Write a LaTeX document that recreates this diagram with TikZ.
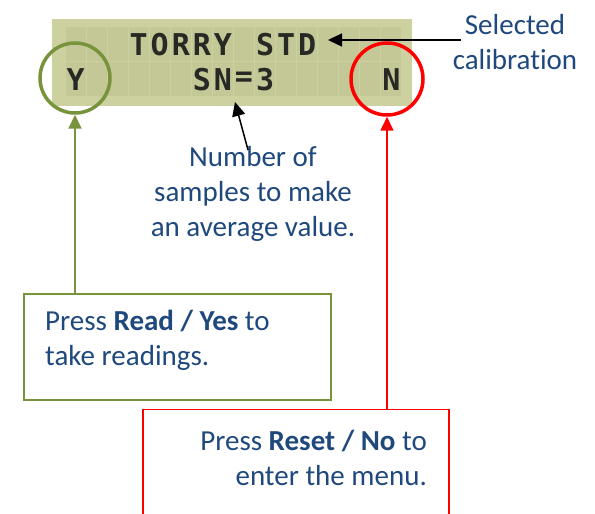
\documentclass[tikz,border=0pt]{standalone}
\usepackage{fontspec}
\setmainfont{Carlito}[Ligatures=CommonOff]
\newfontfamily\lcdfont{DejaVu Sans Mono}
\usepackage{color}
\usetikzlibrary{arrows.meta}
\usetikzlibrary{positioning}

\definecolor{lcdbg}{RGB}{205,209,160}
\definecolor{lcdcell}{RGB}{196,200,151}
\definecolor{lcdink}{RGB}{40,40,36}
\definecolor{txtblue}{RGB}{31,73,125}
\definecolor{btngreen}{RGB}{119,147,60}
\definecolor{btnred}{RGB}{255,0,0}

\begin{document}
\begin{tikzpicture}[x=1pt,y=1pt,
  note/.style={text=txtblue,font=\fontsize{29}{35}\selectfont,inner sep=0pt},
  lcdchar/.style={text=lcdink,font=\lcdfont\bfseries\fontsize{30}{30}\selectfont,inner sep=0pt},
  callbox/.style={draw,anchor=north west,inner sep=0pt},
  ring/.style={circle,draw,line width=3.5pt,inner sep=0pt,minimum size=#1},
  pointer/.style={-{Triangle[length=14pt,width=13pt]},line width=1.5pt}]
  \useasboundingbox (0,0) rectangle (595,514);
  \clip (0,0) rectangle (595,514);

  %% display, 16 x 2 cells
  \node[fill=lcdbg,minimum width=360,minimum height=87,inner sep=0pt] (lcd) at (232,451.5) {};
  \foreach \r in {0,1}
  \foreach \c in {0,...,15}
  \fill[lcdcell] (65.5+\c*21.06, 486.5-\r*35) rectangle ++(20.06,-34);

  %% characters
  \foreach \ch [count=\i from 3] in {T,O,R,R,Y,{},S,T,D}
    \node[lcdchar] (rowA\i) at (75.53+\i*21.06, 469.5) {\ch};
  \foreach \ch/\i in {Y/0,S/6,N/7,=/8,3/9,N/15}
    \node[lcdchar] (rowB\i) at (75.53+\i*21.06, 434.5) {\ch};

  %% buttons
  \node[ring=70,draw=btngreen] (ybtn) at (75,436) {};
  \node[ring=72,draw=btnred] (nbtn) at (387,435) {};

  %% call-out boxes
  \node[callbox,draw=btngreen,line width=2pt,minimum width=307,minimum height=106] (readbox) at (23,221) {};
  \node[note,anchor=west,align=left] (readtxt) at (45,174) {Press \textbf{Read / Yes} to\\take readings.};
  \node[callbox,draw=btnred,line width=1.5pt,minimum width=306,minimum height=150] (resetbox) at (142,105) {};
  \node[note,anchor=east,align=right] (resettxt) at (427,56.5) {Press \textbf{Reset / No} to\\enter the menu.};

  %% notes
  \node[note,align=center] (caltxt) at (515,471.5) {Selected\\calibration};
  \node[note,align=center] (samptxt) at (253,320) {Number of\\samples to make\\an average value.};

  %% pointers
  \coordinate (stdend) at (328,474);
  \coordinate (snend) at (235,412);
  \draw[pointer,shorten <=-8pt] (caltxt.west |- stdend) -- (stdend);
  \draw[pointer,shorten <=-4pt] ([xshift=-6]samptxt.north) -- (snend);
  \draw[pointer,color=btngreen,line width=2pt] (readbox.north -| ybtn) -- (ybtn.south);
  \draw[pointer,color=btnred] (resetbox.north -| nbtn) -- (nbtn.south);
\end{tikzpicture}
\end{document}
